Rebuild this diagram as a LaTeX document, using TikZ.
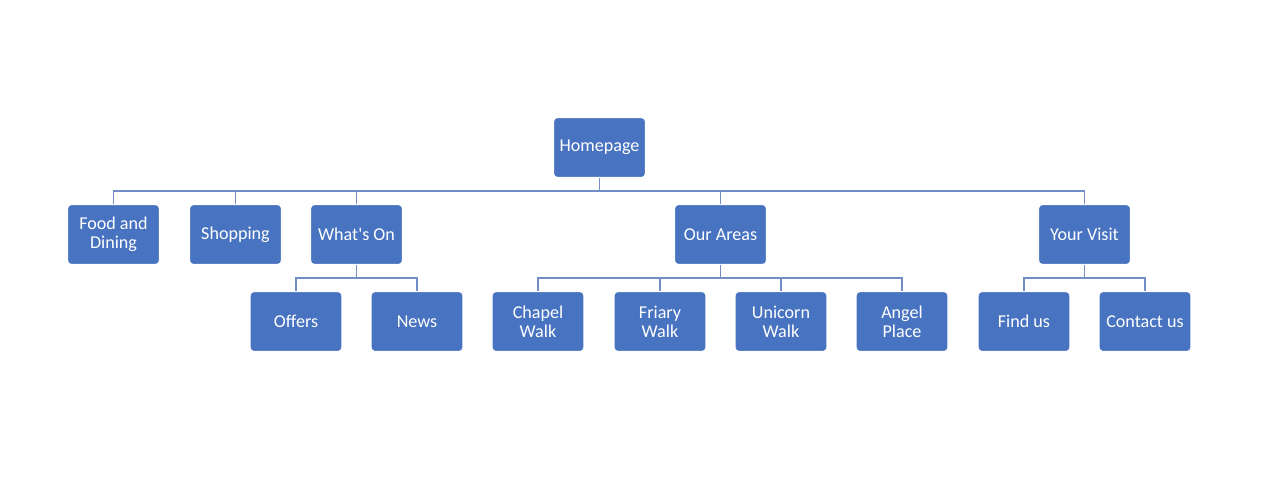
\documentclass[tikz,border=0pt]{standalone}
\usepackage{fontspec}
\setmainfont{Carlito}
\definecolor{boxblue}{RGB}{72,115,192}
\definecolor{linkblue}{RGB}{115,142,198}
\tikzset{
  page/.style={draw=white,line width=0.6pt,fill=boxblue,text=white,rounded corners=0.08cm,
    minimum width=1.84cm,minimum height=1.2cm,inner sep=1pt,align=center,font=\fontsize{10.3}{10.8}\selectfont},
  link/.style={draw=linkblue,line width=1.1pt}
}
\begin{document}
\begin{tikzpicture}[x=0.02cm,y=-0.02cm]
                \useasboundingbox(0,0)rectangle(1286,478);
                % top
                \node[page](home)at(599.5,147.5){Homepage};
                % first level
                \node[page](food)at(113.5,234.5){Food and\\Dining};
                \node[page](shop)at(235.5,234.5){Shopping};
                \node[page](whats)at(356.5,234.5){What\textquotesingle s On};
                \node[page](areas)at(720.5,234.5){Our Areas};
                \node[page](visit)at(1084.5,234.5){Your Visit};
                % second level
                \node[page](offers)at(296,321.5){Offers};
                \node[page](news)at(417,321.5){News};
                \node[page](chapel)at(538,321.5){Chapel\\Walk};
                \node[page](friary)at(660,321.5){Friary\\Walk};
                \node[page](unicorn)at(781,321.5){Unicorn\\Walk};
                \node[page](angel)at(902,321.5){Angel\\Place};
                \node[page](find)at(1024,321.5){Find us};
                \node[page](contact)at(1145,321.5){Contact us};
                % links
                \foreach \c in {food,shop,whats,areas,visit}
                    \draw[link](home.south)--++(0,13)-|(\c.north);
                \foreach \c in {offers,news}
                    \draw[link](whats.south)--++(0,13)-|(\c.north);
                \foreach \c in {chapel,friary,unicorn,angel}
                    \draw[link](areas.south)--++(0,13)-|(\c.north);
                \foreach \c in {find,contact}
                    \draw[link](visit.south)--++(0,13)-|(\c.north);
            \end{tikzpicture}
\end{document}
